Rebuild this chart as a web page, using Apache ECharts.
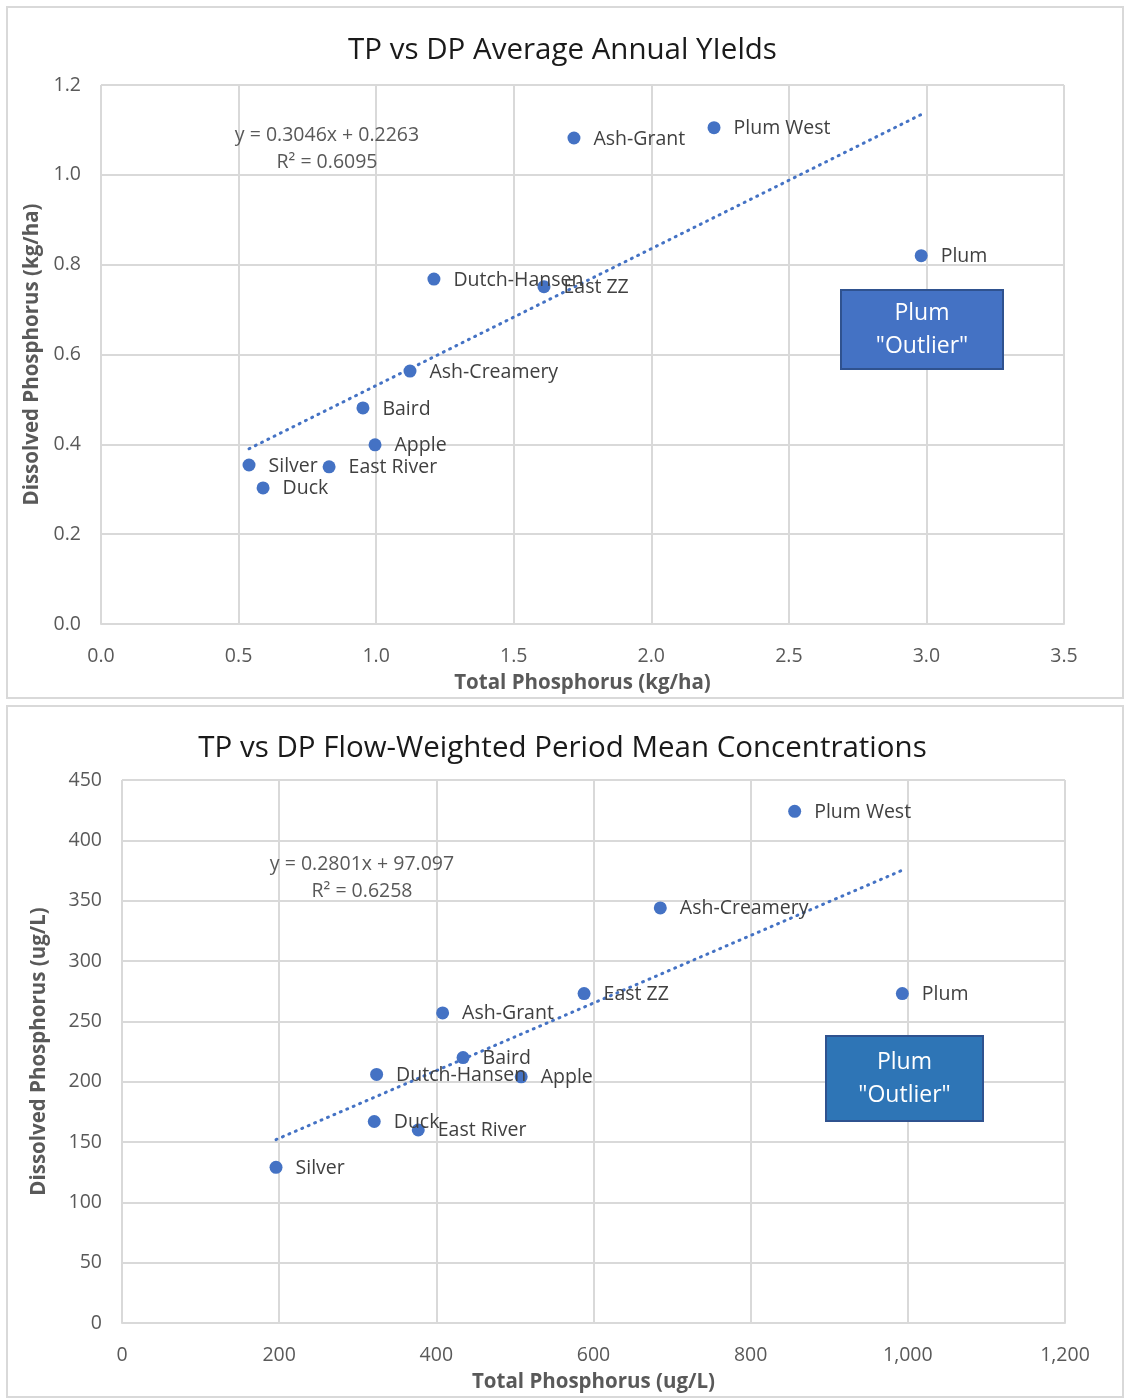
<!DOCTYPE html>
<html>
<head>
<meta charset="utf-8">
<script src="https://cdn.jsdelivr.net/npm/echarts@6/dist/echarts.min.js"></script>
<style>
  html, body { margin: 0; padding: 0; background: #fff; }
  #chart { width: 1125px; height: 1399px; }
</style>
</head>
<body>
<div id="chart"></div>
<script>
// chart 1: average annual yields (kg/ha)
const yieldSites = ['Silver', 'Duck', 'East River', 'Apple', 'Baird', 'Ash-Creamery', 'Dutch-Hansen', 'East ZZ', 'Ash-Grant', 'Plum West', 'Plum']
const yieldTP = [0.538, 0.589, 0.829, 0.996, 0.952, 1.123, 1.210, 1.610, 1.719, 2.228, 2.981]
const yieldDP = [0.354, 0.303, 0.350, 0.399, 0.481, 0.563, 0.768, 0.751, 1.082, 1.105, 0.820]
const yieldFit = [0.3046, 0.2263] // slope, intercept
const yieldR2 = '0.6095'

// chart 2: flow-weighted period mean concentrations (ug/L)
const concSites = ['Silver', 'Duck', 'East River', 'Dutch-Hansen', 'Baird', 'Apple', 'Ash-Grant', 'East ZZ', 'Ash-Creamery', 'Plum West', 'Plum']
const concTP = [196, 321, 377, 324, 434, 508, 408, 588, 685, 856, 993]
const concDP = [129, 167, 160, 206, 220, 204, 257, 273, 344, 424, 273]
const concFit = [0.2801, 97.097]
const concR2 = '0.6258'

const FONT = '"Open Sans", "Noto Sans", sans-serif'
const BLUE = '#4472C4'
const GRID_COLOR = '#D9D9D9'

function points (names, xs, ys) {
  return names.map((n, i) => ({ name: n, value: [xs[i], ys[i]] }))
}

function trend (xs, fit) {
  let lo = Math.min(...xs)
  let hi = Math.max(...xs)
  return [[lo, fit[0] * lo + fit[1]], [hi, fit[0] * hi + fit[1]]]
}

function valueAxis (idx, min, max, interval, fmt, name, nameGap, isX) {
  return {
    type: 'value',
    gridIndex: idx,
    min: min,
    max: max,
    interval: interval,
    name: name,
    nameLocation: 'middle',
    nameGap: nameGap,
    nameTextStyle: { fontFamily: FONT, fontSize: 20.5, fontWeight: 'bold', color: '#595959' },
    axisLine: { show: isX, lineStyle: { color: GRID_COLOR, width: 2 } },
    axisTick: { show: false },
    axisLabel: { fontFamily: FONT, fontSize: 19.5, color: '#595959', margin: isX ? 22 : 20, formatter: fmt },
    splitLine: { show: true, lineStyle: { color: GRID_COLOR, width: 2 } }
  }
}

function scatter (idx, data) {
  return {
    type: 'scatter',
    xAxisIndex: idx,
    yAxisIndex: idx,
    symbolSize: 13,
    itemStyle: { color: BLUE, opacity: 1 },
    label: {
      show: true,
      position: 'right',
      distance: 13,
      offset: [0, 1],
      formatter: '{b}',
      fontFamily: FONT,
      fontSize: 19.5,
      color: '#404040'
    },
    data: data,
    z: 3
  }
}

function trendLine (idx, data) {
  return {
    type: 'line',
    xAxisIndex: idx,
    yAxisIndex: idx,
    symbol: 'none',
    silent: true,
    lineStyle: { color: BLUE, width: 3, type: [1, 6], cap: 'round' },
    data: data,
    z: 2
  }
}

function eqText (x, y, fit, r2, digits) {
  let b = fit[1].toFixed(digits)
  return {
    type: 'text',
    x: x,
    y: y,
    z: 5,
    style: {
      text: 'y = ' + fit[0] + 'x + ' + b + '\nR\u00b2 = ' + r2,
      fontFamily: FONT,
      fontSize: 19.5,
      lineHeight: 27,
      fill: '#595959',
      align: 'center'
    }
  }
}

function outlierBox (x, y, w, h, fill) {
  return [
    { type: 'rect', z: 20, shape: { x: x, y: y, width: w, height: h }, style: { fill: fill, stroke: '#2F528F', lineWidth: 2 } },
    { type: 'text', z: 21, x: x + w / 2, y: y + h / 2, style: { text: 'Plum\n"Outlier"', fontFamily: FONT, fontSize: 23, lineHeight: 33, fill: '#fff', align: 'center', verticalAlign: 'middle' } }
  ]
}

let myChart = echarts.init(document.getElementById('chart'))

let option = {
  backgroundColor: '#fff',
  animation: false,
  title: [
    { text: 'TP vs DP Average Annual YIelds', left: 'center', top: 31, textStyle: { fontFamily: FONT, fontSize: 29.5, fontWeight: 'normal', color: '#1a1a1a' } },
    { text: 'TP vs DP Flow-Weighted Period Mean Concentrations', left: 'center', top: 729, textStyle: { fontFamily: FONT, fontSize: 29.5, fontWeight: 'normal', color: '#1a1a1a' } }
  ],
  grid: [
    { left: 101, right: 61, top: 85, bottom: 775 },
    { left: 122, right: 60, top: 780, bottom: 76 }
  ],
  xAxis: [
    valueAxis(0, 0, 3.5, 0.5, v => v.toFixed(1), 'Total Phosphorus (kg/ha)', 49, true),
    valueAxis(1, 0, 1200, 200, v => v.toLocaleString('en-US'), 'Total Phosphorus (ug/L)', 49, true)
  ],
  yAxis: [
    valueAxis(0, 0, 1.2, 0.2, v => v.toFixed(1), 'Dissolved Phosphorus (kg/ha)', 56, false),
    valueAxis(1, 0, 450, 50, v => String(v), 'Dissolved Phosphorus (ug/L)', 72, false)
  ],
  series: [
    trendLine(0, trend(yieldTP, yieldFit)),
    scatter(0, points(yieldSites, yieldTP, yieldDP)),
    trendLine(1, trend(concTP, concFit)),
    scatter(1, points(concSites, concTP, concDP))
  ],
  graphic: [
    { type: 'rect', shape: { x: 7, y: 7, width: 1116, height: 691 }, style: { fill: 'none', stroke: GRID_COLOR, lineWidth: 2 }, z: -1 },
    { type: 'rect', shape: { x: 7, y: 706, width: 1116, height: 691 }, style: { fill: 'none', stroke: GRID_COLOR, lineWidth: 2 }, z: -1 },
    eqText(327, 122, yieldFit, yieldR2, 4),
    eqText(362, 851, concFit, concR2, 3)
  ].concat(outlierBox(841, 290, 162, 79, '#4472C4'), outlierBox(826, 1036, 157, 85, '#2E75B6'))
}

myChart.setOption(option)
</script>
</body>
</html>
